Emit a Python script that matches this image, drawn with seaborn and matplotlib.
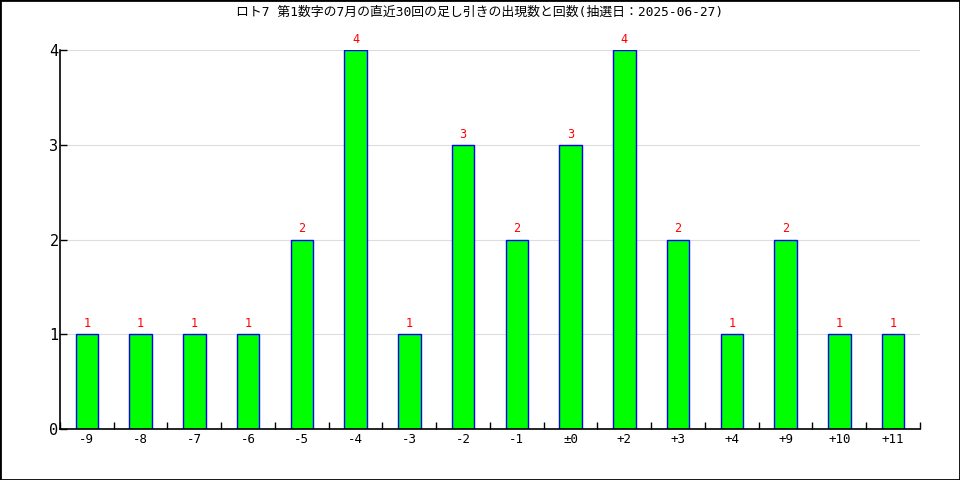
import matplotlib
matplotlib.use("Agg")
import matplotlib.pyplot as plt
import seaborn as sns
import pandas as pd
from matplotlib.patches import Rectangle
from matplotlib.ticker import FixedLocator

categories = ["-9", "-8", "-7", "-6", "-5", "-4", "-3", "-2", "-1", "±0",
              "+2", "+3", "+4", "+9", "+10", "+11"]
counts = [1, 1, 1, 1, 2, 4, 1, 3, 2, 3, 4, 2, 1, 2, 1, 1]
title = "ロト7 第1数字の7月の直近30回の足し引きの出現数と回数(抽選日：2025-06-27)"

sns.set_theme(style="white")
plt.rcParams['font.family'] = ['DejaVu Sans Mono', 'Noto Sans CJK JP']

df = pd.DataFrame({"cat": categories, "n": counts})

fig = plt.figure(figsize=(9.6, 4.8), dpi=100)
ax = fig.add_axes([0.0625, 0.106, 0.8958, 0.790])
sns.barplot(data=df, x="cat", y="n", order=categories, color="#00ff00",
            saturation=1, width=0.42, edgecolor="blue", linewidth=1, ax=ax)

ax.set_xlim(-0.5, len(categories) - 0.5)
ax.set_ylim(0, 4)
ax.set_yticks([0, 1, 2, 3, 4])
ax.yaxis.grid(True, color="#dddddd", linewidth=0.8)
ax.set_axisbelow(True)
ax.set_xlabel("")
ax.set_ylabel("")
for s in ["top", "right"]:
    ax.spines[s].set_visible(False)
for s in ["left", "bottom"]:
    ax.spines[s].set_color("black")
    ax.spines[s].set_linewidth(1.2)

ax.tick_params(axis="x", which="major", length=0, labelsize=9, pad=3, colors="black")
ax.xaxis.set_minor_locator(FixedLocator([i - 0.5 for i in range(len(categories) + 1)]))
ax.tick_params(axis="x", which="minor", direction="in", length=5, width=1, color="black", bottom=True)
ax.tick_params(axis="y", which="major", direction="in", length=5, width=1, labelsize=11,
               color="black", labelcolor="black", left=True, pad=1)

for c in ax.containers:
    anns = ax.bar_label(c, labels=[str(v) for v in counts], padding=3, color="red", fontsize=8.5)
    for a in anns:
        a.set_clip_on(False)

fig.text(0.5, 0.975, title, ha="center", va="center", fontsize=9.3, color="black")
fig.patches.append(Rectangle((0, 0), 1, 1, transform=fig.transFigure, fill=False,
                             edgecolor="black", linewidth=2))
fig.savefig("out.png", dpi=100)
